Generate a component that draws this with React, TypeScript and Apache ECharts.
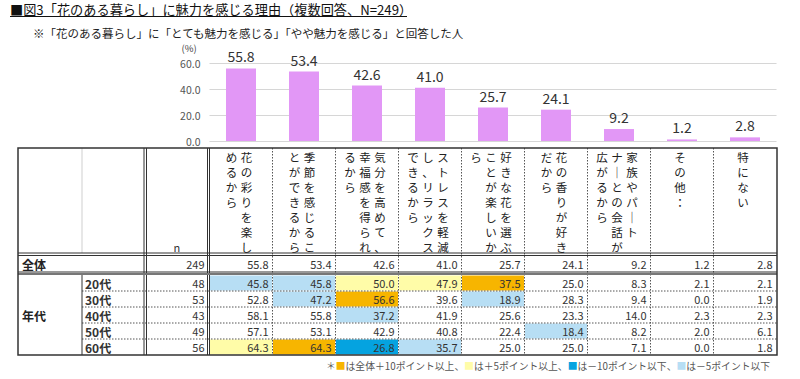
import React, { useEffect, useRef } from "react";
import * as echarts from "echarts";

// ---------- data ----------
const categories = [
  "花の彩りを楽しめるから",
  "季節を感じることができるから",
  "気分を高めて、幸福感を得られるから",
  "ストレスを軽減し、リラックスできるから",
  "好きな花を選ぶことが楽しいから",
  "花の香りが好きだから",
  "家族やパートナーとの会話が広がるから",
  "その他：",
  "特にない",
];
// header text split into vertical lines (right line first)
const headerLines: string[][] = [
  ["花の彩りを楽し", "めるから"],
  ["季節を感じるこ", "とができるから"],
  ["気分を高めて、", "幸福感を得られ", "るから"],
  ["ストレスを軽減", "し、リラックス", "できるから"],
  ["好きな花を選ぶ", "ことが楽しいか", "ら"],
  ["花の香りが好き", "だから"],
  ["家族やパート", "ナーとの会話が", "広がるから"],
  ["その他："],
  ["特にない"],
];
const totalN = 249;
const totalValues = [55.8, 53.4, 42.6, 41.0, 25.7, 24.1, 9.2, 1.2, 2.8];
const ageGroups = ["20代", "30代", "40代", "50代", "60代"];
const ageN = [48, 53, 43, 49, 56];
const age20 = [45.8, 45.8, 50.0, 47.9, 37.5, 25.0, 8.3, 2.1, 2.1];
const age30 = [52.8, 47.2, 56.6, 39.6, 18.9, 28.3, 9.4, 0.0, 1.9];
const age40 = [58.1, 55.8, 37.2, 41.9, 25.6, 23.3, 14.0, 2.3, 2.3];
const age50 = [57.1, 53.1, 42.9, 40.8, 22.4, 18.4, 8.2, 2.0, 6.1];
const age60 = [64.3, 64.3, 26.8, 35.7, 25.0, 25.0, 7.1, 0.0, 1.8];
const ageValues = [age20, age30, age40, age50, age60];
const yTicks = [0, 20, 40, 60];

// ---------- style ----------
const FONT = "'Noto Sans CJK JP', 'Noto Sans', sans-serif";
const BAR = "#E297F6";
const C_ORANGE = "#F7B500";
const C_YELLOW = "#FFFCA8";
const C_BLUE = "#05A3E0";
const C_LBLUE = "#B7DEF4";

const L = 18, R = 777, TOP = 148;
const C1 = 82, NL = 144, NR = 146, DL = 207.5, DR = 209.5;
const COLW = 63.0;
const HB = 253; // header bottom
const TR1 = 272; // total row bottom
const AR0 = 275, RH = 16; // age rows
const BOTTOM = AR0 + RH * 5;

function cellColor(v: number, base: number): string | null {
  const d = Math.round((v - base) * 10) / 10;
  if (d >= 10) return C_ORANGE;
  if (d >= 5) return C_YELLOW;
  if (d < -10) return C_BLUE;
  if (d <= -5) return C_LBLUE;
  return null;
}

function line(x1: number, y1: number, x2: number, y2: number, stroke: string, lw = 1, dash?: number[]) {
  return {
    type: "line",
    silent: true,
    shape: { x1, y1, x2, y2 },
    style: { stroke, lineWidth: lw, lineDash: dash },
  };
}
function txt(x: number, y: number, text: string, opts: any = {}) {
  return {
    type: "text",
    silent: true,
    x,
    y,
    style: {
      text,
      fontFamily: FONT,
      fontSize: 11,
      fill: "#333",
      align: "left",
      verticalAlign: "middle",
      ...opts,
    },
  };
}

export default function App() {
  const ref = useRef<HTMLDivElement>(null);
  useEffect(() => {
    if (!ref.current) return;
    const chart = echarts.init(ref.current, undefined, { renderer: "svg" });
    const g: any[] = [];
    const colX = (i: number) => DR + COLW * i;

    // title
    g.push(txt(10, 9.5, "■図3「花のある暮らし」に魅力を感じる理由（複数回答、N=249）", { fontSize: 13.2, fill: "#111" }));
    g.push(line(10, 16.5, 407, 16.5, "#111", 1));
    g.push(txt(33, 33, "※「花のある暮らし」に「とても魅力を感じる」「やや魅力を感じる」と回答した人", { fontSize: 11.5, fill: "#222" }));
    g.push(txt(189, 48, "(%)", { fontSize: 9.5, fill: "#444", align: "center" }));

    // cell fills
    ageValues.forEach((row, r) => {
      row.forEach((v, c) => {
        const col = cellColor(v, totalValues[c]);
        if (col) {
          g.push({
            type: "rect",
            silent: true,
            shape: { x: colX(c) + 0.5, y: AR0 + RH * r + 0.5, width: COLW - 1, height: RH - 1 },
            style: { fill: col },
          });
        }
      });
    });

    // header vertical texts
    headerLines.forEach((lines, c) => {
      const cx = colX(c) + COLW / 2 - 2;
      const n = lines.length;
      lines.forEach((s, k) => {
        const x = cx + ((n - 1) / 2 - k) * 15;
        const chars = s.replace(/ー/g, "｜").split("");
        chars.forEach((ch, j) => {
          g.push(txt(x, 157 + j * 15, ch, { fontSize: 11.5, fill: "#222", align: "center" }));
        });
      });
    });
    g.push(txt((NR + DL) / 2, 247, "n", { fontSize: 11, fill: "#333", align: "center" }));

    // total row
    g.push(txt(22, 264, "全体", { fontSize: 12, fontWeight: "bold", fill: "#222" }));
    g.push(txt(DL - 3, 264, String(totalN), { align: "right" }));
    totalValues.forEach((v, c) => g.push(txt(colX(c + 1) - 4, 264, v.toFixed(1), { align: "right" })));

    // age rows
    g.push(txt(22, AR0 + RH * 2.5, "年代", { fontSize: 12, fontWeight: "bold", fill: "#222" }));
    ageGroups.forEach((a, r) => {
      const y = AR0 + RH * r + RH / 2;
      g.push(txt(C1 + 3, y, a, { fontSize: 12, fontWeight: "bold", fill: "#333" }));
      g.push(txt(DL - 3, y, String(ageN[r]), { align: "right" }));
      ageValues[r].forEach((v, c) => g.push(txt(colX(c + 1) - 4, y, v.toFixed(1), { align: "right" })));
    });

    // lines
    const dark = "#333";
    const dot = [1.5, 1.5];
    for (let c = 1; c < 9; c++) g.push(line(colX(c), TOP, colX(c), BOTTOM, "#555", 1, dot));
    for (let r = 1; r < 5; r++) g.push(line(C1, AR0 + RH * r, R, AR0 + RH * r, "#555", 1, dot));
    g.push(line(C1, TOP, C1, HB, "#cfcfcf", 1));
    g.push(line(C1, AR0, C1, BOTTOM, dark, 1));
    g.push(line(NL, TOP, NL, BOTTOM, dark, 1));
    g.push(line(NR + 0.5, TOP, NR + 0.5, BOTTOM, dark, 1));
    g.push(line(DL, TOP, DL, BOTTOM, dark, 1));
    g.push(line(DR, TOP, DR, BOTTOM, dark, 1));
    g.push(line(L, HB, R, HB, dark, 1));
    g.push(line(L, HB + 2.5, R, HB + 2.5, dark, 1));
    g.push(line(L, TR1, R, TR1, dark, 1));
    g.push(line(L, TR1 + 2, R, TR1 + 2, "#777", 2));
    g.push({
      type: "rect",
      silent: true,
      shape: { x: L, y: TOP, width: R - L, height: BOTTOM - TOP },
      style: { fill: "none", stroke: dark, lineWidth: 1.5 },
    });

    // legend
    g.push({
      type: "text",
      silent: true,
      x: 326,
      y: 366,
      style: {
        text: "＊{o|■}は全体＋10ポイント以上、{y|■}は＋5ポイント以上、{b|■}は－10ポイント以下、{l|■}は－5ポイント以下",
        fontFamily: FONT,
        fontSize: 9.8,
        fill: "#555",
        verticalAlign: "middle",
        rich: {
          o: { fill: C_ORANGE, fontSize: 9.8, fontFamily: FONT },
          y: { fill: C_YELLOW, fontSize: 9.8, fontFamily: FONT },
          b: { fill: C_BLUE, fontSize: 9.8, fontFamily: FONT },
          l: { fill: C_LBLUE, fontSize: 9.8, fontFamily: FONT },
        },
      },
    });

    chart.setOption({
      animation: false,
      grid: { left: DR, right: 800 - (DR + COLW * 9), top: 63, height: 78, containLabel: false },
      xAxis: {
        type: "category",
        data: categories,
        axisLine: { show: false },
        axisTick: { show: false },
        axisLabel: { show: false },
      },
      yAxis: {
        type: "value",
        min: yTicks[0],
        max: yTicks[yTicks.length - 1],
        interval: 20,
        axisLine: { show: false },
        axisTick: { show: false },
        axisLabel: {
          formatter: (v: number) => v.toFixed(1),
          fontFamily: FONT,
          fontSize: 10.5,
          color: "#555",
          margin: 9,
        },
        splitLine: { lineStyle: { color: "#d6d6d6", width: 1.2 } },
      },
      series: [
        {
          type: "bar",
          data: totalValues,
          barWidth: 30,
          itemStyle: { color: BAR },
          label: {
            show: true,
            position: "top",
            distance: 5,
            formatter: (p: any) => Number(p.value).toFixed(1),
            fontFamily: FONT,
            fontSize: 14,
            color: "#333",
          },
        },
      ],
      graphic: { elements: g },
    });
    return () => chart.dispose();
  }, []);
  return (
    <div
      ref={ref}
      style={{ position: "fixed", left: 0, top: 0, width: 800, height: 379, background: "#fff" }}
    />
  );
}
